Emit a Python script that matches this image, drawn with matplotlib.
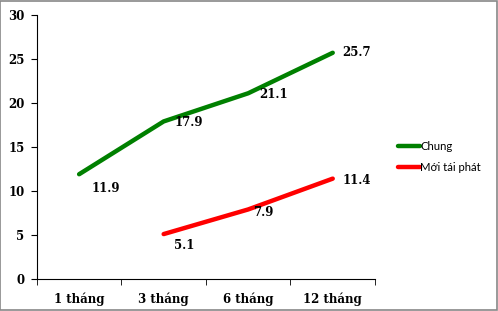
import matplotlib.pyplot as plt
from matplotlib.patches import Rectangle
import numpy as np

# Dữ liệu
categories = ['1 tháng', '3 tháng', '6 tháng', '12 tháng']
chung = [11.9, 17.9, 21.1, 25.7]
moi_tai_phat = [np.nan, 5.1, 7.9, 11.4]

# vị trí nhãn (độ lệch, điểm)
chung_offsets = [(19, -10), (18, -1), (18, -1), (17, 0)]
moi_offsets = [None, (15, -8), (11, -2), (17, -1)]

fig = plt.figure(figsize=(4.98, 3.11), dpi=100)
ax = fig.add_axes([0.074, 0.103, 0.679, 0.849])

x = np.arange(len(categories))
ax.plot(x, chung, color='#008000', linewidth=3.2, solid_capstyle='round', label='Chung')
ax.plot(x, moi_tai_phat, color='#ff0000', linewidth=3.2, solid_capstyle='round', label='Mới tái phát')

serif = ['DejaVu Serif']
for xi, v, off in zip(x, chung, chung_offsets):
    ax.annotate(f'{v:.1f}', (xi, v), xytext=off, textcoords='offset points',
                ha='center', va='center', fontsize=8.5, fontweight='bold', family=serif)
for xi, v, off in zip(x, moi_tai_phat, moi_offsets):
    if off is None:
        continue
    ax.annotate(f'{v:.1f}', (xi, v), xytext=off, textcoords='offset points',
                ha='center', va='center', fontsize=8.5, fontweight='bold', family=serif)

ax.set_xlim(-0.5, 3.5)
ax.set_ylim(0, 30)
ax.set_yticks(range(0, 31, 5))
ax.set_xticks(x)
ax.set_xticklabels(categories)
ax.set_xticks(np.arange(-0.5, 3.6, 1), minor=True)
ax.tick_params(axis='x', which='major', length=0, pad=10)
ax.tick_params(axis='x', which='minor', length=4, direction='out')
ax.tick_params(axis='y', length=4, direction='out', pad=5)
for lab in ax.get_xticklabels() + ax.get_yticklabels():
    lab.set_fontfamily(serif)
    lab.set_fontweight('bold')
    lab.set_fontsize(8.5)

ax.spines['top'].set_visible(False)
ax.spines['right'].set_visible(False)

leg = fig.legend(loc='upper left', bbox_to_anchor=(0.778, 0.58), frameon=False,
                 handlelength=2.0, handletextpad=0.0, labelspacing=0.9,
                 prop={'family': 'Lato', 'size': 8.2})

# viền khung
fig.patches.append(Rectangle((0.001, 0.002), 0.997, 0.995, transform=fig.transFigure,
                             fill=False, edgecolor='#888888', linewidth=1.2))

fig.savefig('out.png', dpi=100)
